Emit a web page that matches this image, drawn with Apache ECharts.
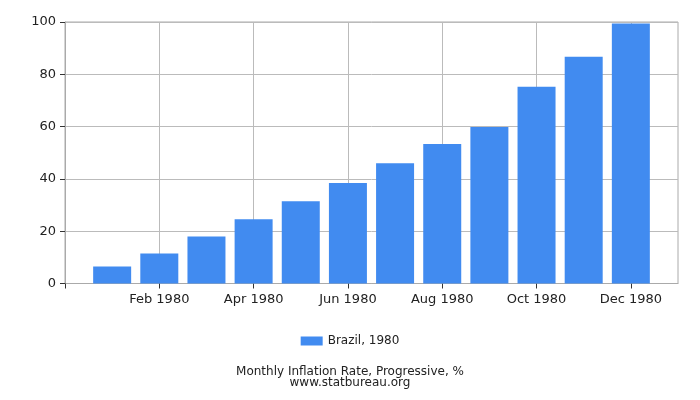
<!DOCTYPE html>
<html><head><meta charset="utf-8">
<script src="https://cdn.jsdelivr.net/npm/echarts@6/dist/echarts.min.js"></script>
<style>html,body{margin:0;padding:0;background:#fff}#c{width:700px;height:400px}</style>
</head><body><div id="c"></div>
<script>
const months = ['Jan 1980','Feb 1980','Mar 1980','Apr 1980','May 1980','Jun 1980','Jul 1980','Aug 1980','Sep 1980','Oct 1980','Nov 1980','Dec 1980'];
const brazil1980 = [6.5, 11.5, 18.0, 24.6, 31.5, 38.4, 46.0, 53.3, 59.8, 75.2, 86.7, 99.4];
const yTicks = [0, 20, 40, 60, 80, 100];
const xTickPositions = [0, 2, 4, 6, 8, 10, 12];
const seriesName = 'Brazil, 1980';
const titleLines = ['Monthly Inflation Rate, Progressive, %', 'www.statbureau.org'];

const chart = echarts.init(document.getElementById('c'));
const font = 'DejaVu Sans';
chart.setOption({
  animation: false,
  textStyle: {fontFamily: font},
  grid: {left: 65, right: 22, top: 22, bottom: 116.5, show: true, borderColor: '#aaa', borderWidth: 1},
  title: {
    text: titleLines.join('\n'),
    left: 'center', top: 361,
    textStyle: {fontFamily: font, fontSize: 12, fontWeight: 'normal', color: '#222', lineHeight: 11}
  },
  legend: {
    data: [seriesName], top: 330, left: 'center',
    itemWidth: 22, itemHeight: 9, icon: 'rect',
    textStyle: {fontFamily: font, fontSize: 12, color: '#222'}
  },
  xAxis: {
    type: 'value', min: 0, max: 13, interval: 2,
    axisLine: {show: true, lineStyle: {color: '#aaa'}},
    axisTick: {show: true, length: 5, lineStyle: {color: '#333'}, customValues: xTickPositions},
    splitLine: {show: true, lineStyle: {color: '#bbb'}},
    axisLabel: {
      fontFamily: font, fontSize: 13, color: '#222', margin: 10,
      customValues: xTickPositions,
      formatter: v => (v >= 1 && v <= 12) ? months[v - 1] : ''
    }
  },
  yAxis: {
    type: 'value', min: yTicks[0], max: yTicks[yTicks.length - 1], interval: 20,
    axisLine: {show: true, lineStyle: {color: '#aaa'}},
    axisTick: {show: true, length: 5, lineStyle: {color: '#333'}},
    splitLine: {show: true, lineStyle: {color: '#bbb'}},
    axisLabel: {fontFamily: font, fontSize: 13, color: '#222', margin: 9}
  },
  series: [{
    name: seriesName, type: 'bar', barWidth: 38,
    itemStyle: {color: '#418BF0'},
    data: brazil1980.map((v, i) => [i + 1, v])
  }]
});
</script></body></html>
